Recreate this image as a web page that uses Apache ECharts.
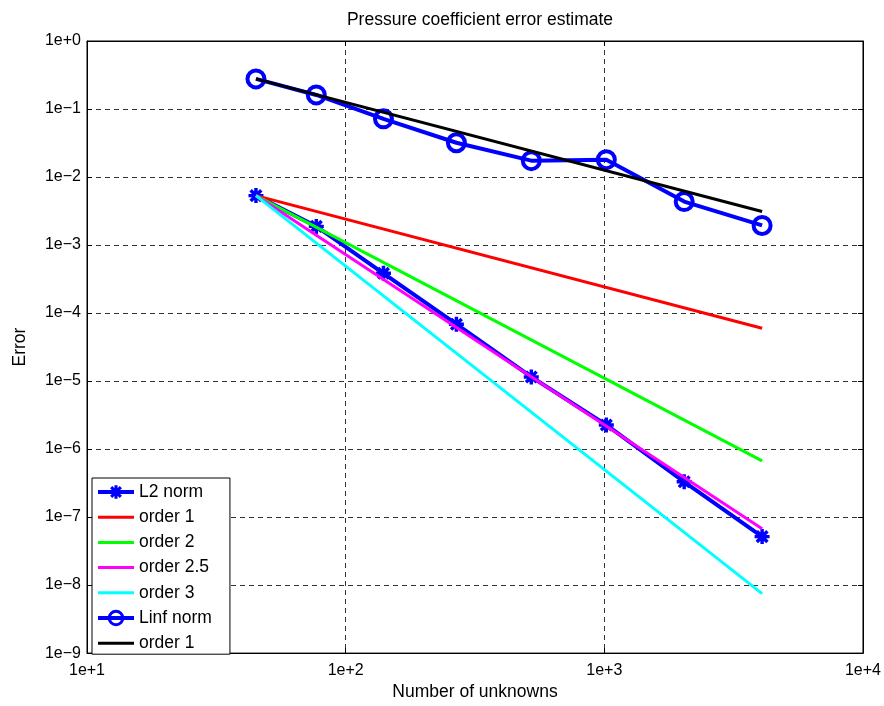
<!DOCTYPE html>
<html>
<head>
<meta charset="utf-8">
<script src="https://cdn.jsdelivr.net/npm/echarts@6/dist/echarts.min.js"></script>
<style>
html,body{margin:0;padding:0;background:#fff;}
#chart{width:884px;height:706px;}
</style>
</head>
<body>
<div id="chart"></div>
<script>
// ---- data ----
const unknowns = [45, 77, 140, 268, 522, 1018, 2036, 4074];
const l2Norm = [5.33e-3, 1.88e-3, 3.84e-4, 6.85e-5, 1.15e-5, 2.26e-6, 3.3e-7, 5.16e-8];
const linfNorm = [0.277, 0.161, 0.0718, 0.0319, 0.0174, 0.0180, 0.00436, 0.00194];
const refX = [45, 4074];
const order1L2 = [5.33e-3, 5.98e-5];
const order2L2 = [5.33e-3, 6.7e-7];
const order25L2 = [5.33e-3, 6.76e-8];
const order3L2 = [5.33e-3, 7.5e-9];
const order1Linf = [0.277, 0.00311];
const xTickLabels = ['1e+1', '1e+2', '1e+3', '1e+4'];
const yTickLabels = ['1e\u22129', '1e\u22128', '1e\u22127', '1e\u22126', '1e\u22125', '1e\u22124', '1e\u22123', '1e\u22122', '1e\u22121', '1e+0'];
const seriesNames = ['L2 norm', 'order 1', 'order 2', 'order 2.5', 'order 3', 'Linf norm', 'order 1 '];

function pairs(xs, ys) { return xs.map((x, i) => [x, ys[i]]); }

// asterisk marker path (8 spokes)
function asteriskPath() {
  const c = 10, L = 10, W = 2.3;
  let p = '';
  [0, 45, 90, 135].forEach(function (deg) {
    const t = deg * Math.PI / 180;
    const ux = Math.cos(t), uy = Math.sin(t), vx = -Math.sin(t), vy = Math.cos(t);
    const pts = [
      [c + L * ux + W * vx, c + L * uy + W * vy],
      [c + L * ux - W * vx, c + L * uy - W * vy],
      [c - L * ux - W * vx, c - L * uy - W * vy],
      [c - L * ux + W * vx, c - L * uy + W * vy]
    ];
    p += 'M' + pts.map(q => q[0].toFixed(3) + ' ' + q[1].toFixed(3)).join(' L') + ' Z ';
  });
  return 'path://' + p;
}
const barIcon = 'path://M0 0 L36 0 L36 3 L0 3 Z';

const FONT = 'Liberation Sans';
const gridLine = { show: true, lineStyle: { color: '#333', type: [5, 4], width: 1 } };

const chart = echarts.init(document.getElementById('chart'), null, { renderer: 'canvas' });
const option = {
  animation: false,
  backgroundColor: '#fff',
  textStyle: { fontFamily: FONT },
  title: {
    text: 'Pressure coefficient error estimate',
    left: 475, top: 6, textAlign: 'center',
    textStyle: { fontFamily: FONT, fontSize: 17.5, fontWeight: 'normal', color: '#000' }
  },
  grid: { left: 87, right: 21, top: 41, bottom: 51, show: true, borderColor: '#000', borderWidth: 1, backgroundColor: '#fff' },
  legend: {
    orient: 'vertical', left: 92, top: 478,
    data: [
      { name: seriesNames[0] },
      { name: seriesNames[1], icon: barIcon },
      { name: seriesNames[2], icon: barIcon },
      { name: seriesNames[3], icon: barIcon },
      { name: seriesNames[4], icon: barIcon },
      { name: seriesNames[5], itemStyle: { borderWidth: 3 } },
      { name: seriesNames[6], icon: barIcon }
    ],
    backgroundColor: '#fff', borderColor: '#000', borderWidth: 1,
    padding: [5, 18, 2, 4],
    itemWidth: 36, itemHeight: 17, itemGap: 7.2,
    lineStyle: { width: 4 },
    textStyle: { fontFamily: FONT, fontSize: 17.5, color: '#000' },
    selectedMode: false
  },
  xAxis: [{
    type: 'log', logBase: 10, min: 10, max: 10000,
    name: 'Number of unknowns', nameLocation: 'middle', nameGap: 27,
    nameTextStyle: { fontFamily: FONT, fontSize: 17.5, color: '#000' },
    axisLine: { show: true, lineStyle: { color: '#000' } },
    axisTick: { show: true, inside: true, length: 5, lineStyle: { color: '#000' } },
    minorTick: { show: false },
    axisLabel: { margin: 9, fontFamily: FONT, fontSize: 16, color: '#000',
      formatter: v => xTickLabels[Math.round(Math.log10(v)) - 1] },
    splitLine: gridLine
  }, {
    type: 'log', logBase: 10, min: 10, max: 10000, position: 'top',
    axisLine: { show: true, lineStyle: { color: '#000' } },
    axisTick: { show: true, inside: true, length: 5, lineStyle: { color: '#000' } },
    axisLabel: { show: false }, splitLine: { show: false }
  }],
  yAxis: [{
    type: 'log', logBase: 10, min: 1e-9, max: 1,
    name: 'Error', nameLocation: 'middle', nameGap: 58,
    nameTextStyle: { fontFamily: FONT, fontSize: 17.5, color: '#000' },
    axisLine: { show: true, lineStyle: { color: '#000' } },
    axisTick: { show: true, inside: true, length: 5, lineStyle: { color: '#000' } },
    axisLabel: { margin: 6, fontFamily: FONT, fontSize: 16, color: '#000',
      formatter: v => yTickLabels[Math.round(Math.log10(v)) + 9] },
    splitLine: gridLine
  }, {
    type: 'log', logBase: 10, min: 1e-9, max: 1, position: 'right',
    axisLine: { show: true, lineStyle: { color: '#000' } },
    axisTick: { show: true, inside: true, length: 5, lineStyle: { color: '#000' } },
    axisLabel: { show: false }, splitLine: { show: false }
  }],
  series: [
    { name: seriesNames[0], type: 'line', data: pairs(unknowns, l2Norm),
      symbol: asteriskPath(), symbolSize: 15, showAllSymbol: true,
      lineStyle: { color: '#0000ff', width: 4 }, itemStyle: { color: '#0000ff' }, z: 2 },
    { name: seriesNames[1], type: 'line', data: pairs(refX, order1L2), showSymbol: false, symbol: 'none',
      lineStyle: { color: '#ff0000', width: 3 }, itemStyle: { color: '#ff0000' }, z: 3 },
    { name: seriesNames[2], type: 'line', data: pairs(refX, order2L2), showSymbol: false, symbol: 'none',
      lineStyle: { color: '#00ff00', width: 3 }, itemStyle: { color: '#00ff00' }, z: 4 },
    { name: seriesNames[3], type: 'line', data: pairs(refX, order25L2), showSymbol: false, symbol: 'none',
      lineStyle: { color: '#ff00ff', width: 3 }, itemStyle: { color: '#ff00ff' }, z: 5 },
    { name: seriesNames[4], type: 'line', data: pairs(refX, order3L2), showSymbol: false, symbol: 'none',
      lineStyle: { color: '#00ffff', width: 3 }, itemStyle: { color: '#00ffff' }, z: 6 },
    { name: seriesNames[5], type: 'line', data: pairs(unknowns, linfNorm),
      symbol: 'circle', symbolSize: 17, showAllSymbol: true,
      lineStyle: { color: '#0000ff', width: 4 },
      itemStyle: { color: 'rgba(0,0,0,0)', borderColor: '#0000ff', borderWidth: 4 }, z: 7 },
    { name: seriesNames[6], type: 'line', data: pairs(refX, order1Linf), showSymbol: false, symbol: 'none',
      lineStyle: { color: '#000000', width: 3 }, itemStyle: { color: '#000000' }, z: 8 }
  ]
};
chart.setOption(option);
</script>
</body>
</html>
